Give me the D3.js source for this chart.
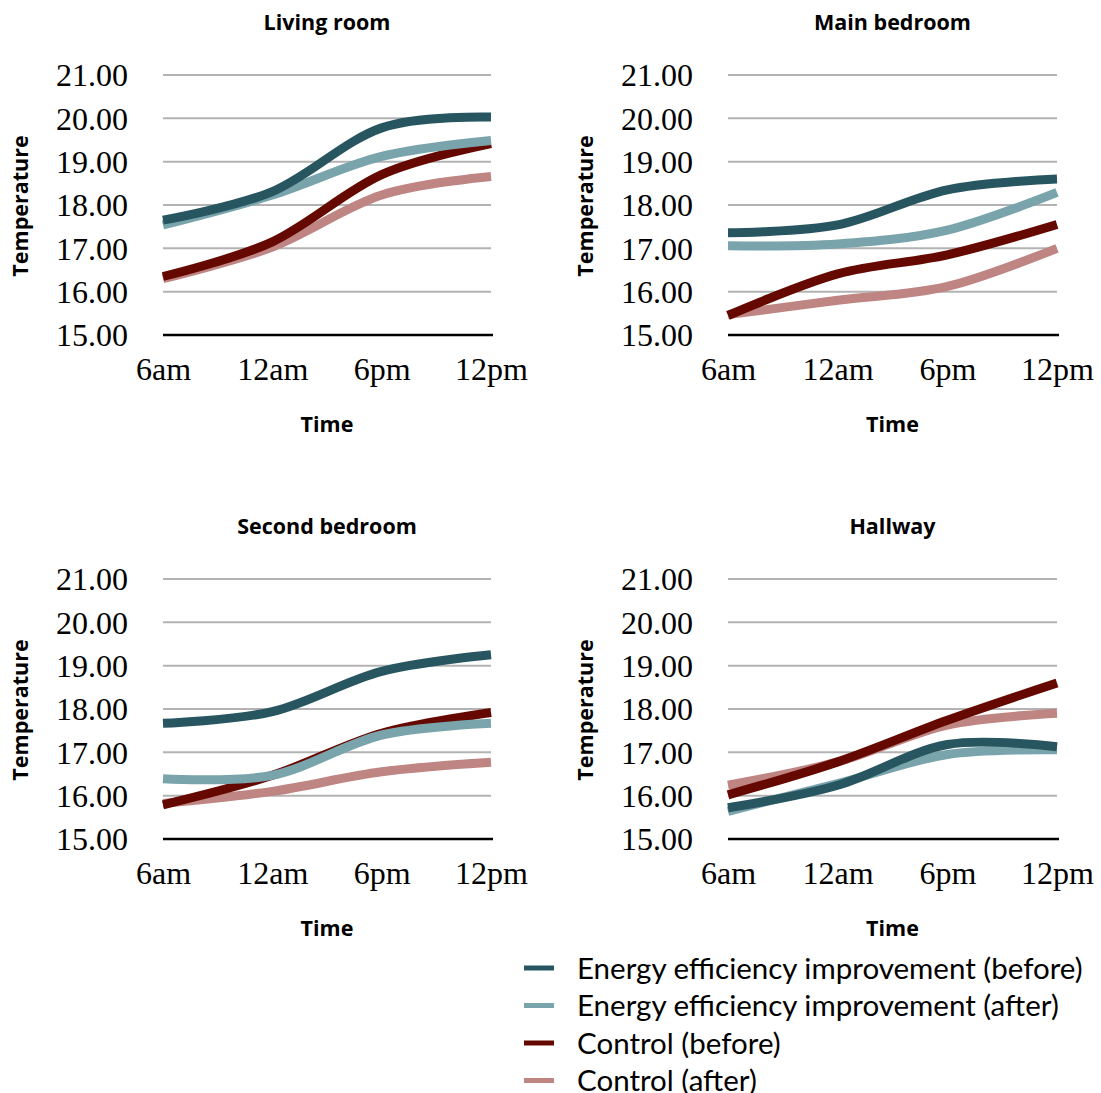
<!DOCTYPE html>
<html>
<head>
<meta charset="utf-8">
<script src="https://cdn.jsdelivr.net/npm/d3@7"></script>
<style>
  html, body { margin: 0; padding: 0; background: #fff; }
  svg { display: block; }
</style>
</head>
<body>
<svg id="chart" width="1101" height="1093"></svg>
<script>
// Time of day on the horizontal axis
const times = ["6am", "12am", "6pm", "12pm"];
const yTicks = [15, 16, 17, 18, 19, 20, 21];

const rooms = ["Living room", "Main bedroom", "Second bedroom", "Hallway"];
const seriesNames = [
  "Energy efficiency improvement (before)",
  "Energy efficiency improvement (after)",
  "Control (before)",
  "Control (after)"
];
const seriesColors = ["#275660", "#79a4ab", "#650800", "#bf8583"];

// Mean temperatures per room, one array per series (6am, 12am, 6pm, 12pm)
const livingEEBefore   = [17.65, 18.31, 19.78, 20.03];
const livingEEAfter    = [17.54, 18.23, 19.12, 19.49];
const livingCtlBefore  = [16.35, 17.15, 18.70, 19.42];
const livingCtlAfter   = [16.30, 17.03, 18.23, 18.66];

const mainEEBefore     = [17.36, 17.54, 18.35, 18.60];
const mainEEAfter      = [17.06, 17.10, 17.42, 18.29];
const mainCtlBefore    = [15.45, 16.41, 16.85, 17.55];
const mainCtlAfter     = [15.47, 15.80, 16.12, 17.00];

const secondEEBefore   = [17.67, 17.94, 18.87, 19.25];
const secondEEAfter    = [16.39, 16.47, 17.40, 17.67];
const secondCtlBefore  = [15.79, 16.47, 17.44, 17.92];
const secondCtlAfter   = [15.82, 16.10, 16.55, 16.77];

const hallEEBefore     = [15.72, 16.24, 17.18, 17.13];
const hallEEAfter      = [15.64, 16.28, 16.95, 17.06];
const hallCtlBefore    = [16.02, 16.78, 17.74, 18.60];
const hallCtlAfter     = [16.24, 16.78, 17.63, 17.90];

const roomData = [
  [livingEEBefore, livingEEAfter, livingCtlBefore, livingCtlAfter],
  [mainEEBefore, mainEEAfter, mainCtlBefore, mainCtlAfter],
  [secondEEBefore, secondEEAfter, secondCtlBefore, secondCtlAfter],
  [hallEEBefore, hallEEAfter, hallCtlBefore, hallCtlAfter]
];

// Panel placement (plot area corners)
const panels = [
  { x0: 163, x1: 491, y0: 75,  y1: 335 },
  { x0: 728, x1: 1057, y0: 75,  y1: 335 },
  { x0: 163, x1: 491, y0: 579, y1: 839 },
  { x0: 728, x1: 1057, y0: 579, y1: 839 }
];

const svg = d3.select("#chart");
const sansBold = "'Open Sans', Lato, sans-serif";
const serif = "'Liberation Serif', 'Times New Roman', serif";

// later series are drawn on top
const drawOrder = [3, 2, 1, 0];

panels.forEach((p, i) => {
  const g = svg.append("g");
  const x = d3.scalePoint().domain(times).range([p.x0, p.x1]);
  const y = d3.scaleLinear().domain([15, 21]).range([p.y1, p.y0]);

  // gridlines
  g.append("g").selectAll("line")
    .data(yTicks.filter(t => t > 15))
    .join("line")
    .attr("x1", p.x0).attr("x2", p.x1)
    .attr("y1", d => y(d)).attr("y2", d => y(d))
    .attr("stroke", "#b3b3b3").attr("stroke-width", 2);

  // y axis labels
  const yAxis = d3.axisLeft(y).tickValues(yTicks).tickFormat(d3.format(".2f")).tickSize(0).tickPadding(35);
  const ya = g.append("g").attr("transform", `translate(${p.x0},0)`).call(yAxis);
  ya.select(".domain").remove();
  ya.selectAll("text").attr("font-family", serif).attr("font-size", 32).attr("fill", "#000").attr("dy", "0.34em");

  // x axis
  const xAxis = d3.axisBottom(x).tickSize(0).tickPadding(22);
  const xa = g.append("g").attr("transform", `translate(0,${p.y1})`).call(xAxis);
  xa.select(".domain").remove();
  xa.selectAll("text").attr("font-family", serif).attr("font-size", 32).attr("fill", "#000");
  g.append("line")
    .attr("x1", p.x0).attr("x2", p.x1 + 2)
    .attr("y1", p.y1).attr("y2", p.y1)
    .attr("stroke", "#000").attr("stroke-width", 2.5);

  // series lines
  const line = d3.line()
    .x((d, k) => x(times[k]))
    .y(d => y(d))
    .curve(d3.curveCardinal.tension(0));
  drawOrder.forEach(s => {
    g.append("path")
      .datum(roomData[i][s])
      .attr("d", line)
      .attr("fill", "none")
      .attr("stroke", seriesColors[s])
      .attr("stroke-width", 9)
      .attr("stroke-linecap", "butt");
  });

  const cx = (p.x0 + p.x1) / 2;
  // panel title
  g.append("text")
    .attr("x", cx).attr("y", p.y0 - 45)
    .attr("text-anchor", "middle")
    .attr("font-family", sansBold).attr("font-weight", 700).attr("font-size", 21.5)
    .text(rooms[i]);
  // axis titles
  g.append("text")
    .attr("x", cx).attr("y", p.y1 + 97)
    .attr("text-anchor", "middle")
    .attr("font-family", sansBold).attr("font-weight", 700).attr("font-size", 21.5)
    .text("Time");
  g.append("text")
    .attr("transform", `translate(${p.x0 - 135},${(p.y0 + p.y1) / 2 + 1}) rotate(-90)`)
    .attr("text-anchor", "middle")
    .attr("font-family", sansBold).attr("font-weight", 700).attr("font-size", 21.5)
    .text("Temperature");
});

// legend
const legend = svg.append("g");
seriesNames.forEach((name, s) => {
  const ly = 968 + s * 37.5;
  legend.append("line")
    .attr("x1", 524).attr("x2", 554)
    .attr("y1", ly).attr("y2", ly)
    .attr("stroke", seriesColors[s]).attr("stroke-width", 5);
  legend.append("text")
    .attr("x", 577).attr("y", ly)
    .attr("dy", "0.36em")
    .attr("font-family", "Lato, 'Open Sans', sans-serif").attr("font-size", 29.5)
    .attr("fill", "#000")
    .text(name);
});
</script>
</body>
</html>
